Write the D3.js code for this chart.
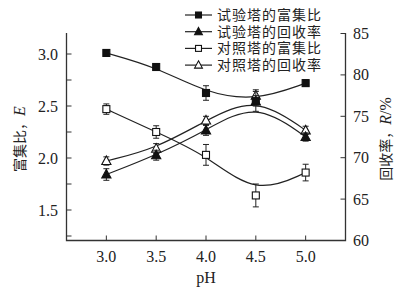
<!DOCTYPE html>
<html>
<head>
<meta charset="utf-8">
<script src="https://cdn.jsdelivr.net/npm/d3@7"></script>
<style>
    body { margin: 0; background: #fff; }
    svg { display: block; }
    .tick-label { font-family: 'Liberation Serif', serif; font-size: 16px; fill: #222; }
    .cjk { font-family: 'Noto Sans CJK SC', sans-serif; font-size: 14px; fill: #222; }
    .legend-text { font-family: 'Liberation Serif', 'Noto Sans CJK SC', serif; font-size: 14px; letter-spacing: 1px; fill: #222; }
</style>
</head>
<body>
<script>
const pH = [3.0, 3.5, 4.0, 4.5, 5.0]

// 富集比 (left axis)
const testEnrich = [3.01, 2.875, 2.625, 2.55, 2.72]
const testEnrichErr = [0.025, 0.025, 0.07, 0.05, 0.03]
const ctrlEnrich = [2.47, 2.25, 2.03, 1.64, 1.86]
const ctrlEnrichErr = [0.05, 0.06, 0.1, 0.11, 0.08]

// 回收率 (right axis)
const testRecovery = [67.97, 70.3, 73.3, 76.8, 72.5]
const testRecoveryErr = [0.7, 0.6, 0.6, 1.2, 0.5]
const ctrlRecovery = [69.6, 71.1, 74.5, 77.5, 73.3]
const ctrlRecoveryErr = [0.5, 0.6, 0.5, 0.7, 0.5]

const xTicks = [3.0, 3.5, 4.0, 4.5, 5.0]
const leftTicks = [1.5, 2.0, 2.5, 3.0]
const leftMinorTicks = [1.25, 1.5, 1.75, 2.0, 2.25, 2.5, 2.75, 3.0]
const rightTicks = [60, 65, 70, 75, 80, 85]

const seriesNames = ['试验塔的富集比', '试验塔的回收率', '对照塔的富集比', '对照塔的回收率']

const drawChart = () => {
    const w = 415
    const h = 289

    const svg = d3.select('body').append('svg')
        .attr('width', w)
        .attr('height', h)

    const x = d3.scaleLinear().domain([2.6, 5.4]).range([66.5, 345.5])
    const yL = d3.scaleLinear().domain([1.2, 3.2]).range([241.2, 33.2])
    const yR = d3.scaleLinear().domain([60, 85]).range([240.5, 33.5])

    const axisColor = '#333'

    // axis lines
    svg.append('path')
        .attr('d', `M${x.range()[0]},33 V240.5 H${x.range()[1]} V33`)
        .attr('fill', 'none')
        .attr('stroke', axisColor)
        .attr('stroke-width', 1.3)

    // bottom ticks (inward)
    const gx = svg.append('g')
    gx.selectAll('line').data(xTicks).enter().append('line')
        .attr('x1', d => x(d)).attr('x2', d => x(d))
        .attr('y1', 240.5).attr('y2', 235.5)
        .attr('stroke', axisColor)
    gx.selectAll('text').data(xTicks).enter().append('text')
        .attr('class', 'tick-label')
        .attr('x', d => x(d))
        .attr('y', 262)
        .attr('text-anchor', 'middle')
        .text(d => d.toFixed(1))

    // left ticks
    const gl = svg.append('g')
    gl.selectAll('line').data(leftMinorTicks).enter().append('line')
        .attr('x1', 66.5).attr('x2', 71.5)
        .attr('y1', d => yL(d)).attr('y2', d => yL(d))
        .attr('stroke', axisColor)
    gl.selectAll('text').data(leftTicks).enter().append('text')
        .attr('class', 'tick-label')
        .attr('x', 58)
        .attr('y', d => yL(d) + 5.5)
        .attr('text-anchor', 'end')
        .text(d => d.toFixed(1))

    // right ticks
    const gr = svg.append('g')
    gr.selectAll('line').data(rightTicks).enter().append('line')
        .attr('x1', 345.5).attr('x2', 340.5)
        .attr('y1', d => yR(d)).attr('y2', d => yR(d))
        .attr('stroke', axisColor)
    gr.selectAll('text').data(rightTicks).enter().append('text')
        .attr('class', 'tick-label')
        .attr('x', 353)
        .attr('y', d => yR(d) + 5.5)
        .text(d => d)

    // axis titles
    const leftTitle = svg.append('text')
        .attr('class', 'cjk')
        .attr('transform', 'translate(25, 139) rotate(-90)')
        .attr('text-anchor', 'middle')
    leftTitle.append('tspan').text('富集比，')
    leftTitle.append('tspan')
        .style('font-family', 'Liberation Serif, serif')
        .style('font-style', 'italic')
        .style('font-size', '16px')
        .text('E')

    const rightTitle = svg.append('text')
        .attr('class', 'cjk')
        .attr('transform', 'translate(391, 139) rotate(-90)')
        .attr('text-anchor', 'middle')
    rightTitle.append('tspan').text('回收率，')
    rightTitle.append('tspan')
        .style('font-family', 'Liberation Serif, serif')
        .style('font-style', 'italic')
        .style('font-size', '16px')
        .text('R')
    rightTitle.append('tspan')
        .style('font-family', 'Liberation Serif, serif')
        .style('font-size', '16px')
        .text('/%')

    svg.append('text')
        .attr('class', 'tick-label')
        .attr('x', x(4.0))
        .attr('y', 283)
        .attr('text-anchor', 'middle')
        .text('pH')

    const series = [
        { name: seriesNames[0], values: testEnrich, err: testEnrichErr, y: yL, shape: 'square', filled: true },
        { name: seriesNames[1], values: testRecovery, err: testRecoveryErr, y: yR, shape: 'triangle', filled: true },
        { name: seriesNames[2], values: ctrlEnrich, err: ctrlEnrichErr, y: yL, shape: 'square', filled: false },
        { name: seriesNames[3], values: ctrlRecovery, err: ctrlRecoveryErr, y: yR, shape: 'triangle', filled: false }
    ]

    const drawMarker = (g, s, cx, cy, size = 1) => {
        if (s.shape === 'square') {
            g.append('rect')
                .attr('x', cx - 3.5 * size).attr('y', cy - 3.5 * size)
                .attr('width', 7 * size).attr('height', 7 * size)
                .attr('fill', s.filled ? '#111' : '#fff')
                .attr('stroke', '#111')
                .attr('stroke-width', 1.1)
        } else {
            g.append('path')
                .attr('d', `M${cx},${cy - 5 * size} L${cx + 4.6 * size},${cy + 3.5 * size} L${cx - 4.6 * size},${cy + 3.5 * size} Z`)
                .attr('fill', s.filled ? '#111' : '#fff')
                .attr('stroke', '#111')
                .attr('stroke-width', 1.1)
        }
    }

    // curves first, then error bars and markers
    series.forEach(s => {
        const line = d3.line()
            .x((d, i) => x(pH[i]))
            .y(d => s.y(d))
            .curve(d3.curveBasis)
        svg.append('path')
            .attr('d', line(s.values))
            .attr('fill', 'none')
            .attr('stroke', '#222')
            .attr('stroke-width', 1.2)
    })

    const drawOrder = [3, 2, 1, 0]
    drawOrder.forEach(k => {
        const s = series[k]
        const g = svg.append('g')
        s.values.forEach((v, i) => {
            const cx = x(pH[i])
            const top = s.y(v + s.err[i])
            const bot = s.y(v - s.err[i])
            g.append('line')
                .attr('x1', cx).attr('x2', cx)
                .attr('y1', top).attr('y2', bot)
                .attr('stroke', '#222')
            g.append('line')
                .attr('x1', cx - 3).attr('x2', cx + 3)
                .attr('y1', top).attr('y2', top)
                .attr('stroke', '#222')
            g.append('line')
                .attr('x1', cx - 3).attr('x2', cx + 3)
                .attr('y1', bot).attr('y2', bot)
                .attr('stroke', '#222')
            drawMarker(g, s, cx, s.y(v))
        })
    })

    // legend
    const legend = svg.selectAll('.legend')
        .data(series)
        .enter()
        .append('g')
            .attr('class', 'legend')
            .attr('transform', (d, i) => `translate(185, ${15 + i * 16.7})`)

    legend.append('line')
        .attr('x1', 0).attr('x2', 27)
        .attr('y1', 0).attr('y2', 0)
        .attr('stroke', '#222')
        .attr('stroke-width', 1.2)

    legend.each(function(d) {
        drawMarker(d3.select(this), d, 13.5, 0, 0.85)
    })

    legend.append('text')
        .attr('class', 'legend-text')
        .attr('x', 32)
        .attr('y', 5)
        .text(d => d.name)
}

drawChart()
</script>
</body>
</html>
